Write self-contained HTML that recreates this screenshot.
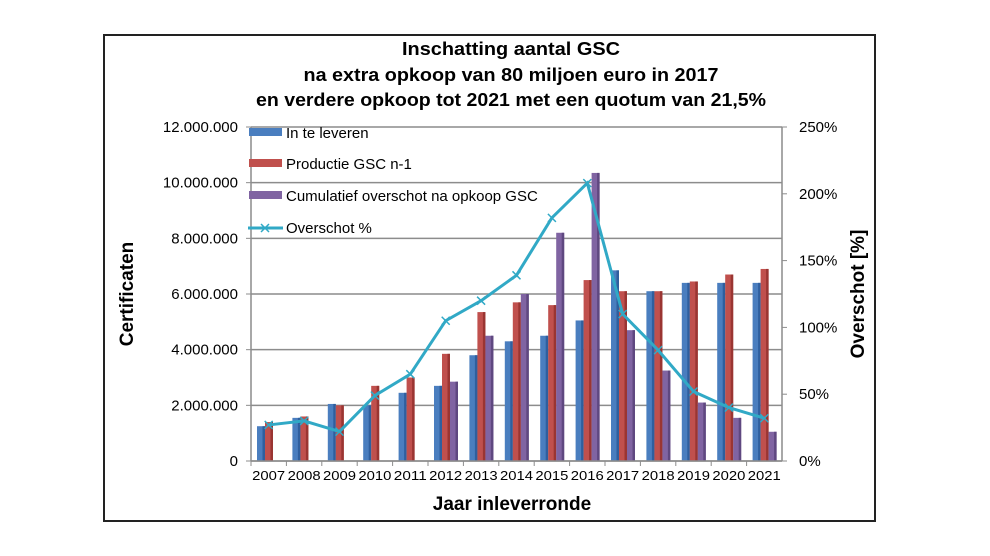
<!DOCTYPE html>
<html><head><meta charset="utf-8">
<style>
body{margin:0;background:#fff;width:990px;height:556px;overflow:hidden}
svg{display:block;font-family:"Liberation Sans",Arial,sans-serif}
</style></head><body>
<svg id="s" width="990" height="556" viewBox="0 0 990 556" xmlns="http://www.w3.org/2000/svg"></svg>
<script>
const s=document.getElementById('s');let h='';
h+='<rect x="104" y="35" width="771" height="486" fill="#fff" stroke="#222" stroke-width="2"/>';
const tt=["Inschatting aantal GSC","na extra opkoop van 80 miljoen euro in 2017","en verdere opkoop tot 2021 met  een quotum van 21,5%"];
[55,81,106].forEach((y,i)=>{h+=`<text x="511" y="${y}" text-anchor="middle" font-size="18" font-weight="bold" textLength="${[218,415,510][i]}" lengthAdjust="spacingAndGlyphs">${tt[i]}</text>`});
const X0=251,X1=782,Y0=461,Y1=127,cw=(X1-X0)/15,py=(Y0-Y1)/12;
for(let i=0;i<=6;i++){const y=Y0-i*2*py;h+=`<line x1="${X0}" y1="${y}" x2="${X1}" y2="${y}" stroke="#8c8c8c" stroke-width="1.5"/>`;
h+=`<line x1="${X0-5}" y1="${y}" x2="${X0}" y2="${y}" stroke="#8c8c8c"/>`;
h+=`<text x="${X0-13}" y="${y+5}" text-anchor="end" font-size="15">${['0','2.000.000','4.000.000','6.000.000','8.000.000','10.000.000','12.000.000'][i]}</text>`;}
for(let i=0;i<=5;i++){const y=Y0-i*(Y0-Y1)/5;h+=`<line x1="${X1}" y1="${y}" x2="${X1+5}" y2="${y}" stroke="#8c8c8c"/>`;
h+=`<text x="${X1+17}" y="${y+5}" font-size="15">${i*50}%</text>`;}
const B=[1.25,1.55,2.05,2.0,2.45,2.7,3.8,4.3,4.5,5.05,6.85,6.1,6.4,6.4,6.4],
R=[1.4,1.6,2.0,2.7,3.0,3.85,5.35,5.7,5.6,6.5,6.1,6.1,6.45,6.7,6.9],
P=[0,0,0,0,0,2.85,4.5,6.0,8.2,10.35,4.7,3.25,2.1,1.55,1.05],
L=[27,30,22,49,65,105,120,139,182,208,110,83,52,40,32];
const bar=(x,v,c,d)=>{if(!v)return '';const y=Y0-v*py;return `<rect x="${x}" y="${y}" width="8" height="${Y0-y}" fill="${c}"/><rect x="${x+5.5}" y="${y}" width="2.5" height="${Y0-y}" fill="${d}"/>`};
for(let i=0;i<15;i++){const x=X0+i*cw+6;
h+=bar(x,B[i],'#4a7ebf','#2f5f9e')+bar(x+8,R[i],'#c0504d','#9a3532')+bar(x+16,P[i],'#8064a2','#5f4880');
h+=`<text x="${X0+i*cw+cw/2}" y="480" text-anchor="middle" font-size="12.5" textLength="33" lengthAdjust="spacingAndGlyphs">${2007+i}</text>`;
h+=`<line x1="${X0+i*cw}" y1="${Y0}" x2="${X0+i*cw}" y2="${Y0+5}" stroke="#8c8c8c"/>`;}
h+=`<line x1="${X0}" y1="${Y1}" x2="${X0}" y2="${Y0}" stroke="#8c8c8c" stroke-width="1.5"/><line x1="${X1}" y1="${Y1}" x2="${X1}" y2="${Y0}" stroke="#8c8c8c" stroke-width="1.5"/>`;
h+=`<line x1="${X0}" y1="${Y0}" x2="${X1}" y2="${Y0}" stroke="#8c8c8c" stroke-width="1.5"/>`;
const pts=L.map((v,i)=>[X0+i*cw+cw/2,Y0-v*(Y0-Y1)/250]);
h+=`<polyline points="${pts.map(p=>p.join(',')).join(' ')}" fill="none" stroke="#31a9c6" stroke-width="3"/>`;
pts.forEach(p=>{h+=`<path d="M${p[0]-4},${p[1]-4}L${p[0]+4},${p[1]+4}M${p[0]-4},${p[1]+4}L${p[0]+4},${p[1]-4}" stroke="#31a9c6" stroke-width="1.5"/>`});
const lg=[['In te leveren','#4a7ebf',133],['Productie GSC n-1','#c0504d',164],['Cumulatief overschot na opkoop GSC','#8064a2',196]];
lg.forEach(l=>{h+=`<rect x="249" y="${l[2]-5}" width="33" height="8" fill="${l[1]}"/><text x="286" y="${l[2]+5}" font-size="15">${l[0]}</text>`});
h+=`<line x1="248" y1="228" x2="283" y2="228" stroke="#31a9c6" stroke-width="3"/><path d="M261,224L269,232M261,232L269,224" stroke="#31a9c6" stroke-width="1.5"/><text x="286" y="233" font-size="15">Overschot %</text>`;
h+=`<text x="512" y="510" text-anchor="middle" font-size="19" font-weight="bold">Jaar inleverronde</text>`;
h+=`<text transform="translate(133,294) rotate(-90)" text-anchor="middle" font-size="19" font-weight="bold">Certificaten</text>`;
h+=`<text transform="translate(864,294) rotate(-90)" text-anchor="middle" font-size="19" font-weight="bold">Overschot [%]</text>`;
s.innerHTML=h;
</script>
</body></html>
